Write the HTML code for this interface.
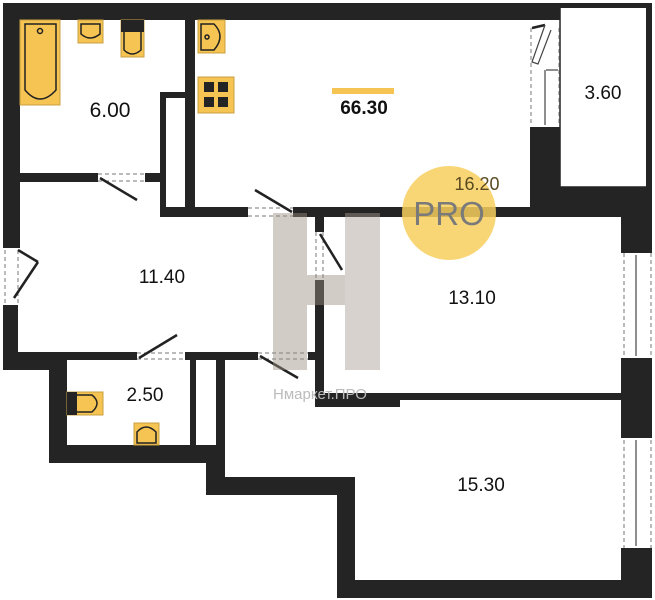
<!DOCTYPE html>
<html><head><meta charset="utf-8"><style>
html,body{margin:0;padding:0;background:#fff;}
svg{display:block;}
text{font-family:"Liberation Sans","DejaVu Sans",sans-serif;fill:#111;}
</style></head><body>
<svg width="655" height="600" viewBox="0 0 655 600" xmlns="http://www.w3.org/2000/svg">
<g fill="#242424">
<!-- top walls -->
<rect x="3" y="3" width="557" height="17"/>
<!-- left wall -->
<rect x="3" y="3" width="17" height="245"/>
<rect x="3" y="305" width="15" height="65"/>
<rect x="3" y="352" width="64" height="18"/>
<rect x="49" y="352" width="18" height="111"/>
<rect x="20" y="352" width="117" height="8"/>
<rect x="185" y="352" width="73" height="8"/>
<rect x="308" y="352" width="16" height="8"/>
<!-- 2.50 room -->
<rect x="190" y="360" width="6" height="85"/>
<rect x="216" y="360" width="9" height="85"/>
<rect x="49" y="445" width="176" height="18"/>
<rect x="206" y="445" width="19" height="50"/>
<rect x="206" y="477" width="149" height="18"/>
<rect x="337" y="477" width="18" height="121"/>
<rect x="337" y="580" width="315" height="18"/>
<!-- right walls -->
<rect x="621" y="548" width="31" height="50"/>
<rect x="621" y="358" width="31" height="80"/>
<rect x="621" y="187" width="31" height="66"/>
<rect x="530" y="127" width="30" height="90"/>
<rect x="530" y="187" width="122" height="30"/>
<!-- 13.10 / 15.30 walls -->
<rect x="315" y="207" width="215" height="10"/>
<rect x="315" y="207" width="9" height="25"/>
<rect x="315" y="280" width="9" height="127"/>
<rect x="315" y="393" width="306" height="7"/>
<rect x="315" y="393" width="85" height="14"/>
<!-- kitchen / bath -->
<rect x="185" y="20" width="10" height="197"/>
<rect x="160" y="92" width="35" height="6"/>
<rect x="160" y="92" width="6" height="125"/>
<rect x="160" y="207" width="88" height="10"/>
<rect x="293" y="207" width="30" height="10"/>
<rect x="20" y="173" width="78" height="9"/>
<rect x="145" y="173" width="20" height="9"/>
</g>
<!-- 3.60 balcony -->
<rect x="560" y="7" width="87" height="180" fill="#fff" stroke="#242424" stroke-width="1.5"/>
<rect x="646" y="3" width="6" height="187" fill="#242424"/>
<rect x="555" y="3" width="97" height="5" fill="#242424"/>
<!-- balcony door -->
<g stroke="#777" stroke-dasharray="4,3" stroke-width="1" fill="none">
<line x1="531" y1="28" x2="531" y2="125"/><line x1="559" y1="28" x2="559" y2="125"/>
<line x1="624" y1="253" x2="624" y2="358"/><line x1="651" y1="253" x2="651" y2="358"/>
<line x1="624" y1="440" x2="624" y2="548"/><line x1="651" y1="440" x2="651" y2="548"/>
<line x1="5" y1="250" x2="5" y2="305"/><line x1="18" y1="250" x2="18" y2="305"/>
<line x1="98" y1="174" x2="145" y2="174"/><line x1="98" y1="181" x2="145" y2="181"/>
<line x1="248" y1="208" x2="293" y2="208"/><line x1="248" y1="216" x2="293" y2="216"/>
<line x1="137" y1="353" x2="185" y2="353"/><line x1="137" y1="359" x2="185" y2="359"/>
<line x1="258" y1="353" x2="308" y2="353"/><line x1="258" y1="359" x2="308" y2="359"/>
<line x1="316" y1="232" x2="316" y2="280"/><line x1="323" y1="232" x2="323" y2="280"/>
</g>
<g stroke="#222" stroke-width="2.5" fill="none">
<line x1="100" y1="178" x2="137" y2="200"/>
<line x1="292" y1="212" x2="255" y2="190"/>
<line x1="139" y1="358" x2="177" y2="335"/>
<line x1="260" y1="356" x2="298" y2="378"/>
<line x1="320" y1="234" x2="342" y2="270"/>
<line x1="18" y1="250" x2="38" y2="262"/><line x1="38" y1="262" x2="14" y2="298"/>
<line x1="532" y1="28" x2="545" y2="25"/>
</g>
<g stroke="#444" stroke-width="1.2" fill="none">
<path d="M545 25 L532 62 L538 64 L551 30"/>
<line x1="546" y1="70" x2="558" y2="70"/>
<line x1="545" y1="70" x2="545" y2="125"/>
<line x1="636" y1="255" x2="636" y2="356"/>
<line x1="636" y1="440" x2="636" y2="546"/>
</g>
<!-- fixtures -->
<g stroke="#222" stroke-width="1.5">
<rect x="20" y="20" width="40" height="85" fill="#f5c452" stroke="#c9a040" stroke-width="1"/>
<path d="M25 24 H56 V90 Q40 108 25 90 Z" fill="#f5c452"/>
<circle cx="40" cy="31" r="2.5" fill="none"/>
<rect x="78" y="20" width="25" height="23" fill="#f5c452" stroke="#c9a040" stroke-width="1"/>
<path d="M81 24 H100 V34 Q90 42 81 34 Z" fill="#f5c452"/>
<rect x="121" y="20" width="23" height="37" fill="#f5c452" stroke="#c9a040" stroke-width="1"/>
<rect x="121" y="20" width="23" height="12" fill="#242424" stroke="none"/>
<path d="M124 32 V50 Q132 58 141 50 V32" fill="#f5c452"/>
<rect x="198" y="20" width="27" height="33" fill="#f5c452" stroke="#c9a040" stroke-width="1"/>
<path d="M201 24 H214 Q226 36 214 50 H201 Z" fill="#f5c452"/>
<circle cx="207" cy="37" r="2" fill="none"/>
<rect x="198" y="77" width="36" height="36" fill="#f5c452" stroke="#c9a040" stroke-width="1"/>
<rect x="67" y="392" width="36" height="23" fill="#f5c452" stroke="#c9a040" stroke-width="1"/>
<rect x="67" y="392" width="10" height="23" fill="#242424" stroke="none"/>
<path d="M77 395 H92 Q102 403 92 412 H77" fill="#f5c452"/>
<rect x="134" y="423" width="25" height="22" fill="#f5c452" stroke="#c9a040" stroke-width="1"/>
<path d="M137 443 V432 Q146 422 156 432 V443 Z" fill="#f5c452"/>
</g>
<g fill="#242424">
<rect x="204" y="82" width="10" height="10"/><rect x="218" y="82" width="10" height="10"/>
<rect x="204" y="97" width="10" height="10"/><rect x="218" y="97" width="10" height="10"/>
</g>
<!-- watermark -->
<g opacity="0.45">
<rect x="273" y="213" width="34" height="157" fill="#9c8f84"/>
<rect x="345" y="213" width="35" height="157" fill="#a89c92"/>
<rect x="307" y="275" width="38" height="30" fill="#9c8f84"/>
</g>
<text x="273" y="399" font-size="15" style="fill:#bbb">Нмаркет.ПРО</text>
<circle cx="449" cy="213" r="47" fill="#f7cf5e" opacity="0.85"/>
<text x="449" y="225" font-size="33" text-anchor="middle" style="fill:#7a7a7a">PRO</text>
<!-- labels -->
<rect x="332" y="88" width="62" height="6" fill="#f5c452"/>
<text x="110" y="117" font-size="21" text-anchor="middle">6.00</text>
<text x="364" y="114" font-size="19" font-weight="bold" text-anchor="middle">66.30</text>
<text x="477" y="190" font-size="18" text-anchor="middle" style="fill:#5a4a20">16.20</text>
<text x="603" y="99" font-size="19" text-anchor="middle">3.60</text>
<text x="162" y="283" font-size="19" text-anchor="middle">11.40</text>
<text x="472" y="304" font-size="19" text-anchor="middle">13.10</text>
<text x="145" y="401" font-size="19" text-anchor="middle">2.50</text>
<text x="481" y="491" font-size="19" text-anchor="middle">15.30</text>
</svg>
</body></html>
